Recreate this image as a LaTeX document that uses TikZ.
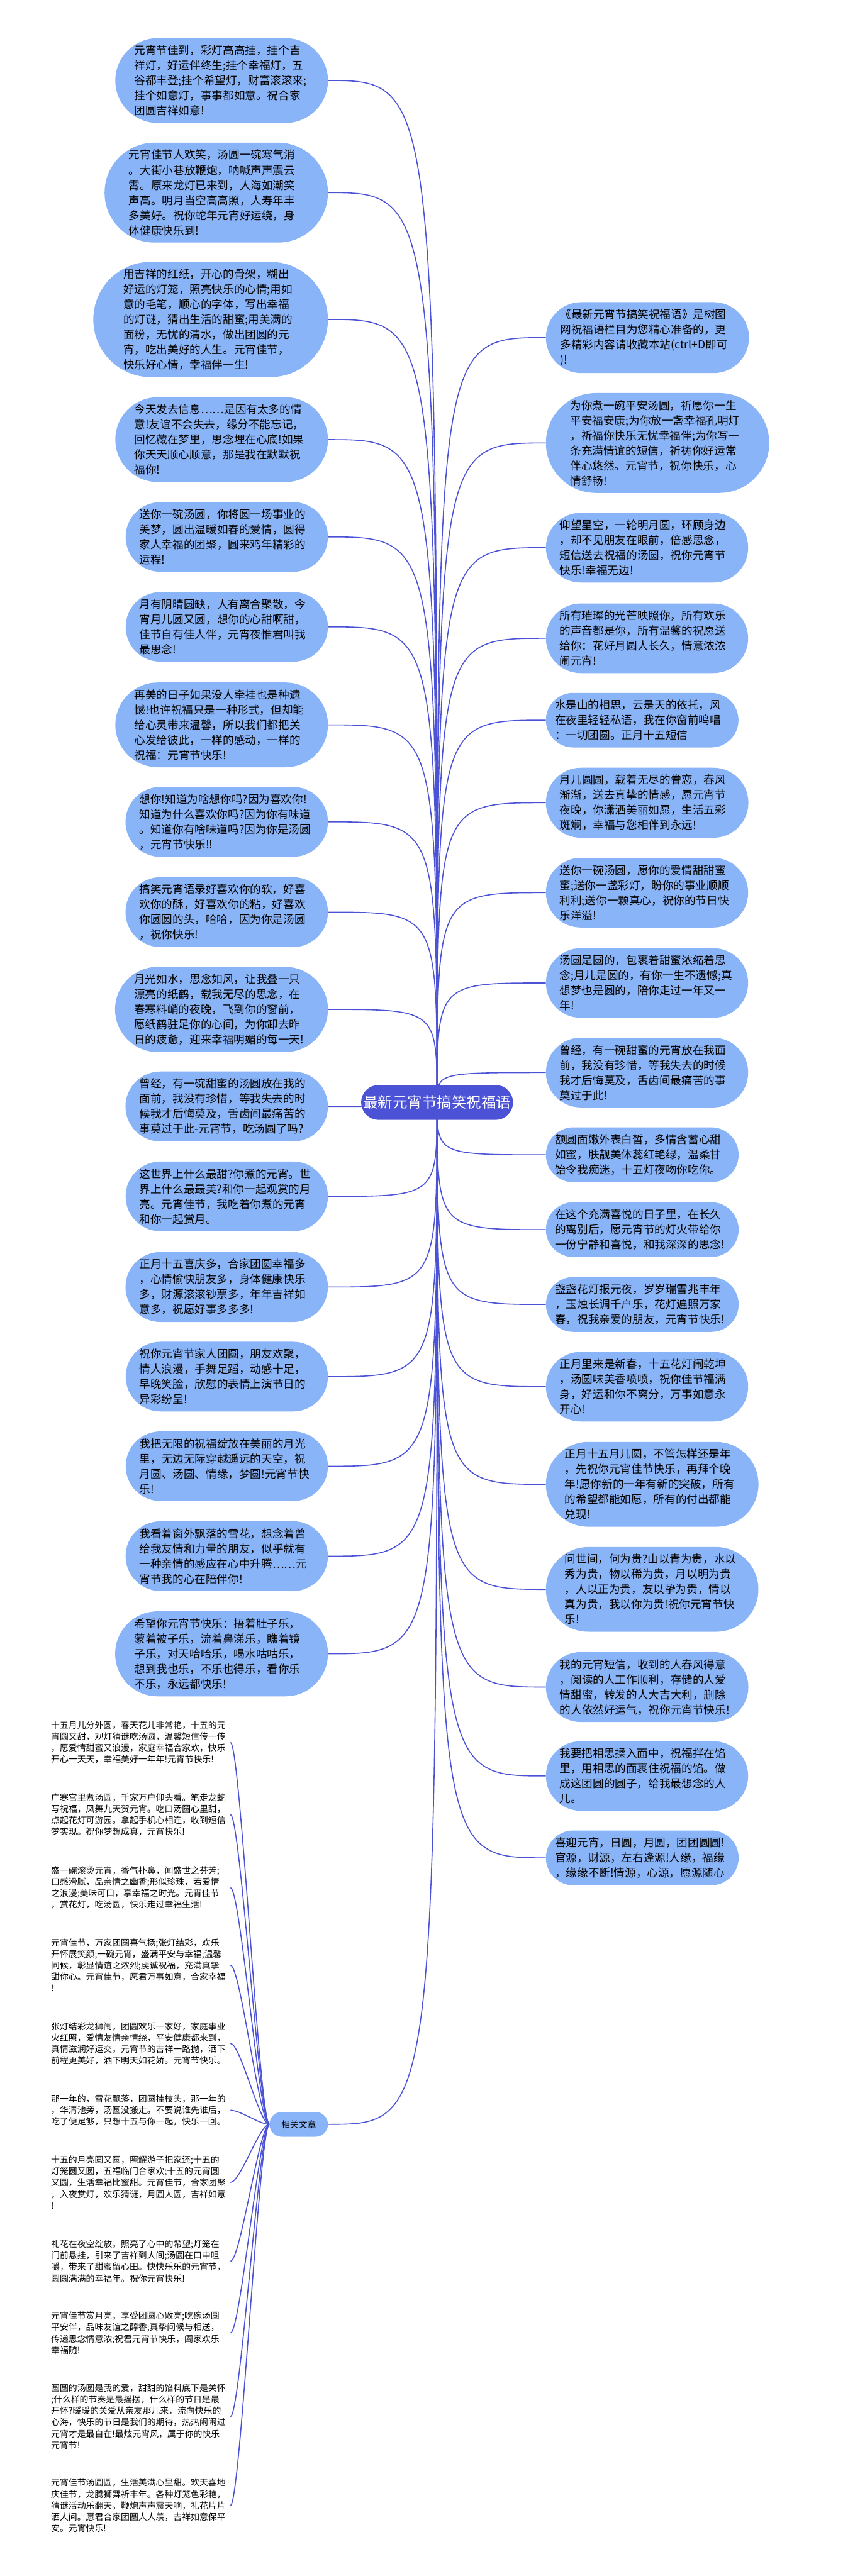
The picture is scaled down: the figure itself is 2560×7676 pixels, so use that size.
\documentclass[tikz,border=0pt]{standalone}
\usepackage{fontspec}
\setmainfont{Noto Sans CJK SC}
\usetikzlibrary{shapes.misc,backgrounds}
\definecolor{wishblue}{HTML}{8AB4F8}
\definecolor{linkblue}{HTML}{4B52D6}
\begin{document}
\begin{tikzpicture}[x=1pt,y=-1pt,
  wish/.style={rounded rectangle,fill=wishblue,text width=520pt,align=left,inner xsep=0pt,inner ysep=21pt,font=\fontsize{33}{45}\selectfont},
  related/.style={anchor=west,text width=534pt,align=left,inner xsep=0pt,inner ysep=4pt,font=\fontsize{26}{34}\selectfont},
  link/.style={draw=linkblue,line width=3pt}]
  \useasboundingbox (0,0) rectangle (2560,7676);
  \node[rounded rectangle,fill=linkblue,text=white,inner xsep=2pt,minimum height=104pt,font=\fontsize{44}{50}\selectfont] (root) at (1302,3285) {最新元宵节搞笑祝福语};
  \foreach \n/\y/\t in {
    l1/240/{元宵节佳到，彩灯高高挂，挂个吉\\祥灯，好运伴终生;挂个幸福灯，五\\谷都丰登;挂个希望灯，财富滚滚来;\\挂个如意灯，事事都如意。祝合家\\团圆吉祥如意!},
    l2/574/{元宵佳节人欢笑，汤圆一碗寒气消\\。大街小巷放鞭炮，呐喊声声震云\\霄。原来龙灯已来到，人海如潮笑\\声高。明月当空高高照，人寿年丰\\多美好。祝你蛇年元宵好运绕，身\\体健康快乐到!},
    l3/952/{用吉祥的红纸，开心的骨架，糊出\\好运的灯笼，照亮快乐的心情;用如\\意的毛笔，顺心的字体，写出幸福\\的灯谜，猜出生活的甜蜜;用美满的\\面粉，无忧的清水，做出团圆的元\\宵，吃出美好的人生。元宵佳节，\\快乐好心情，幸福伴一生!},
    l4/1310/{今天发去信息……是因有太多的情\\意!友谊不会失去，缘分不能忘记，\\回忆藏在梦里，思念埋在心底!如果\\你天天顺心顺意，那是我在默默祝\\福你!},
    l5/1600/{送你一碗汤圆，你将圆一场事业的\\美梦，圆出温暖如春的爱情，圆得\\家人幸福的团聚，圆来鸡年精彩的\\运程!},
    l6/1868/{月有阴晴圆缺，人有离合聚散，今\\宵月儿圆又圆，想你的心甜啊甜，\\佳节自有佳人伴，元宵夜惟君叫我\\最思念!},
    l7/2160/{再美的日子如果没人牵挂也是种遗\\憾!也许祝福只是一种形式，但却能\\给心灵带来温馨，所以我们都把关\\心发给彼此，一样的感动，一样的\\祝福：元宵节快乐!},
    l8/2449/{想你!知道为啥想你吗?因为喜欢你!\\知道为什么喜欢你吗?因为你有味道\\。知道你有啥味道吗?因为你是汤圆\\，元宵节快乐!!},
    l9/2718/{搞笑元宵语录好喜欢你的软，好喜\\欢你的酥，好喜欢你的粘，好喜欢\\你圆圆的头，哈哈，因为你是汤圆\\，祝你快乐!},
    l10/3008/{月光如水，思念如风，让我叠一只\\漂亮的纸鹤，载我无尽的思念，在\\春寒料峭的夜晚，飞到你的窗前，\\愿纸鹤驻足你的心间，为你卸去昨\\日的疲惫，迎来幸福明媚的每一天!},
    l11/3297/{曾经，有一碗甜蜜的汤圆放在我的\\面前，我没有珍惜，等我失去的时\\候我才后悔莫及，舌齿间最痛苦的\\事莫过于此-元宵节，吃汤圆了吗?},
    l12/3565/{这世界上什么最甜?你煮的元宵。世\\界上什么最最美?和你一起观赏的月\\亮。元宵佳节，我吃着你煮的元宵\\和你一起赏月。},
    l13/3835/{正月十五喜庆多，合家团圆幸福多\\，心情愉快朋友多，身体健康快乐\\多，财源滚滚钞票多，年年吉祥如\\意多，祝愿好事多多多!},
    l14/4102/{祝你元宵节家人团圆，朋友欢聚，\\情人浪漫，手舞足蹈，动感十足，\\早晚笑脸，欣慰的表情上演节日的\\异彩纷呈!},
    l15/4369/{我把无限的祝福绽放在美丽的月光\\里，无边无际穿越遥远的天空，祝\\月圆、汤圆、情缘，梦圆!元宵节快\\乐!},
    l16/4637/{我看着窗外飘落的雪花，想念着曾\\给我友情和力量的朋友，似乎就有\\一种亲情的感应在心中升腾……元\\宵节我的心在陪伴你!},
    l17/4928/{希望你元宵节快乐：捂着肚子乐，\\蒙着被子乐，流着鼻涕乐，瞧着镜\\子乐，对天哈哈乐，喝水咕咕乐，\\想到我也乐，不乐也得乐，看你乐\\不乐，永远都快乐!}}
    \node[wish,anchor=east] (\n) at (977,\y) {\t};
  \foreach \n/\y/\t in {
    r1/1006/{《最新元宵节搞笑祝福语》是树图\\网祝福语栏目为您精心准备的，更\\多精彩内容请收藏本站(ctrl+D即可\\)!},
    r2/1320/{为你煮一碗平安汤圆，祈愿你一生\\平安福安康;为你放一盏幸福孔明灯\\，祈福你快乐无忧幸福伴;为你写一\\条充满情谊的短信，祈祷你好运常\\伴心悠然。元宵节，祝你快乐，心\\情舒畅!},
    r3/1632/{仰望星空，一轮明月圆，环顾身边\\，却不见朋友在眼前，倍感思念，\\短信送去祝福的汤圆，祝你元宵节\\快乐!幸福无边!},
    r4/1902/{所有璀璨的光芒映照你，所有欢乐\\的声音都是你，所有温馨的祝愿送\\给你：花好月圆人长久，情意浓浓\\闹元宵!},
    r5/2146/{水是山的相思，云是天的依托，风\\在夜里轻轻私语，我在你窗前鸣唱\\：一切团圆。正月十五短信},
    r6/2392/{月儿圆圆，载着无尽的眷恋，春风\\渐渐，送去真挚的情感，愿元宵节\\夜晚，你潇洒美丽如愿，生活五彩\\斑斓，幸福与您相伴到永远!},
    r7/2660/{送你一碗汤圆，愿你的爱情甜甜蜜\\蜜;送你一盏彩灯，盼你的事业顺顺\\利利;送你一颗真心，祝你的节日快\\乐洋溢!},
    r8/2929/{汤圆是圆的，包裹着甜蜜浓缩着思\\念;月儿是圆的，有你一生不遗憾;真\\想梦也是圆的，陪你走过一年又一\\年!},
    r9/3196/{曾经，有一碗甜蜜的元宵放在我面\\前，我没有珍惜，等我失去的时候\\我才后悔莫及，舌齿间最痛苦的事\\莫过于此!},
    r10/3441/{额圆面嫩外表白皙，多情含蓄心甜\\如蜜，肤靓美体蕊红艳绿，温柔甘\\饴令我痴迷，十五灯夜吻你吃你。},
    r11/3664/{在这个充满喜悦的日子里，在长久\\的离别后，愿元宵节的灯火带给你\\一份宁静和喜悦，和我深深的思念!},
    r12/3887/{盏盏花灯报元夜，岁岁瑞雪兆丰年\\，玉烛长调千户乐，花灯遍照万家\\春，祝我亲爱的朋友，元宵节快乐!},
    r13/4132/{正月里来是新春，十五花灯闹乾坤\\，汤圆味美香喷喷，祝你佳节福满\\身，好运和你不离分，万事如意永\\开心!},
    r14/4423/{正月十五月儿圆，不管怎样还是年\\，先祝你元宵佳节快乐，再拜个晚\\年!愿你新的一年有新的突破，所有\\的希望都能如愿，所有的付出都能\\兑现!},
    r15/4736/{问世间，何为贵?山以青为贵，水以\\秀为贵，物以稀为贵，月以明为贵\\，人以正为贵，友以挚为贵，情以\\真为贵，我以你为贵!祝你元宵节快\\乐!},
    r16/5027/{我的元宵短信，收到的人春风得意\\，阅读的人工作顺利，存储的人爱\\情甜蜜，转发的人大吉大利，删除\\的人依然好运气，祝你元宵节快乐!},
    r17/5292/{我要把相思揉入面中，祝福拌在馅\\里，用相思的面裹住祝福的馅。做\\成这团圆的圆子，给我最想念的人\\儿。},
    r18/5536/{喜迎元宵，日圆，月圆，团团圆圆!\\官源，财源，左右逢源!人缘，福缘\\，缘缘不断!情源，心源，愿源随心}}
    \node[wish,anchor=west] (\n) at (1626,\y) {\t};
  \node[rounded rectangle,fill=wishblue,inner xsep=33pt,minimum height=74pt,font=\fontsize{26}{30}\selectfont,anchor=east] (rel) at (977,6330) {相关文章};
  \foreach \n/\y/\t in {
    a1/5192/{十五月儿分外圆，春天花儿非常艳，十五的元\\宵圆又甜，观灯猜谜吃汤圆，温馨短信传一传\\，愿爱情甜蜜又浪漫，家庭幸福合家欢，快乐\\开心一天天，幸福美好一年年!元宵节快乐!},
    a2/5407/{广寒宫里煮汤圆，千家万户仰头看。笔走龙蛇\\写祝福，凤舞九天贺元宵。吃口汤圆心里甜，\\点起花灯可游园。拿起手机心相连，收到短信\\梦实现。祝你梦想成真，元宵快乐!},
    a3/5625/{盛一碗滚烫元宵，香气扑鼻，闻盛世之芬芳;\\口感滑腻，品亲情之幽香;形似珍珠，若爱情\\之浪漫;美味可口，享幸福之时光。元宵佳节\\，赏花灯，吃汤圆，快乐走过幸福生活!},
    a4/5856/{元宵佳节，万家团圆喜气扬;张灯结彩，欢乐\\开怀展笑颜;一碗元宵，盛满平安与幸福;温馨\\问候，彰显情谊之浓烈;虔诚祝福，充满真挚\\甜你心。元宵佳节，愿君万事如意，合家幸福\\!},
    a5/6089/{张灯结彩龙狮闹，团圆欢乐一家好，家庭事业\\火红照，爱情友情亲情绕，平安健康都来到，\\真情滋润好运交，元宵节的吉祥一路抛，洒下\\前程更美好，洒下明天如花娇。元宵节快乐。},
    a6/6288/{那一年的，雪花飘落，团圆挂枝头，那一年的\\，华清池旁，汤圆没搬走。不要说谁先谁后，\\吃了便足够，只想十五与你一起，快乐一回。},
    a7/6503/{十五的月亮圆又圆，照耀游子把家还;十五的\\灯笼圆又圆，五福临门合家欢;十五的元宵圆\\又圆，生活幸福比蜜甜。元宵佳节，合家团聚\\，入夜赏灯，欢乐猜谜，月圆人圆，吉祥如意\\!},
    a8/6738/{礼花在夜空绽放，照亮了心中的希望;灯笼在\\门前悬挂，引来了吉祥到人间;汤圆在口中咀\\嚼，带来了甜蜜留心田。快快乐乐的元宵节，\\圆圆满满的幸福年。祝你元宵快乐!},
    a9/6952/{元宵佳节赏月亮，享受团圆心敞亮;吃碗汤圆\\平安伴，品味友谊之醇香;真挚问候与相送，\\传递思念情意浓;祝君元宵节快乐，阖家欢乐\\幸福随!},
    a10/7201/{圆圆的汤圆是我的爱，甜甜的馅料底下是关怀\\;什么样的节奏是最摇摆，什么样的节日是最\\开怀?暖暖的关爱从亲友那儿来，流向快乐的\\心海，快乐的节日是我们的期待，热热闹闹过\\元宵才是最自在!最炫元宵风，属于你的快乐\\元宵节!},
    a11/7466/{元宵佳节汤圆圆，生活美满心里甜。欢天喜地\\庆佳节，龙腾狮舞祈丰年。各种灯笼色彩艳，\\猜谜活动乐翻天。鞭炮声声震天响，礼花片片\\洒人间。愿君合家团圆人人羡，吉祥如意保平\\安。元宵快乐!}}
    \node[related] (\n) at (152,\y) {\t};
  \begin{scope}[on background layer]
    \fill[white] (0,0) rectangle (2560,7676);
    \foreach \i in {1,...,17}
      \draw[link] (root.center) .. controls (root.center |- l\i.east) .. (l\i.east);
    \foreach \i in {1,...,18}
      \draw[link] (root.center) .. controls (root.center |- r\i.west) .. (r\i.west);
    \draw[link] (root.center) .. controls (root.center |- rel.east) .. (rel.east);
    \foreach \i in {1,...,11}
      \draw[link] (rel.west) .. controls +(-30,0) and +(30,0) .. (a\i.east);
  \end{scope}
\end{tikzpicture}
\end{document}
